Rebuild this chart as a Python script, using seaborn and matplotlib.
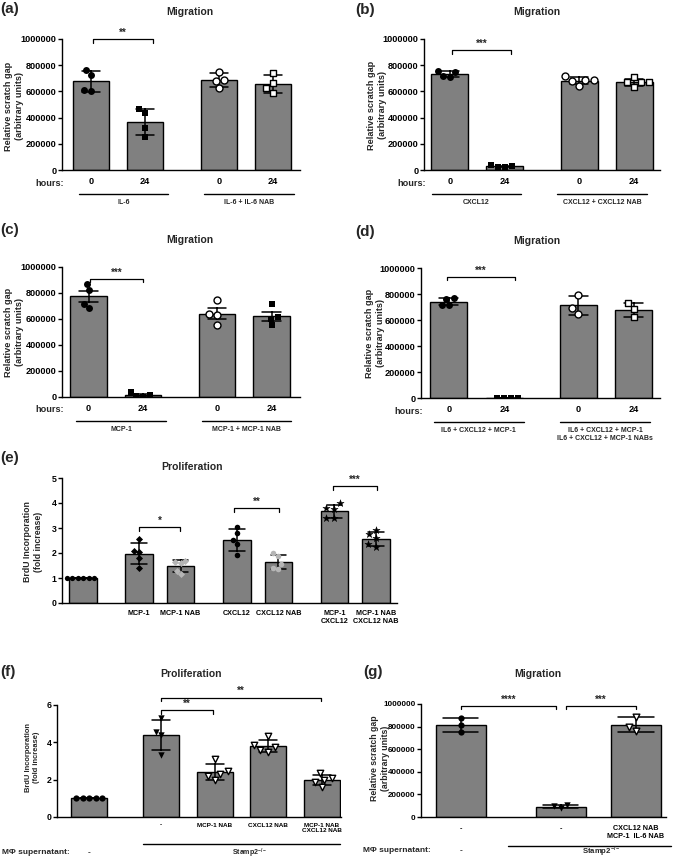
import numpy as np
import pandas as pd
import matplotlib
matplotlib.use("Agg")
import matplotlib.pyplot as plt
import matplotlib.transforms as mtransforms
import seaborn as sns

# ---------------- data ----------------
# (a) IL-6 migration (relative scratch gap)
a_il6_0h = [763000, 725000, 610000, 605000]
a_il6_24h = [466000, 435000, 320000, 252000]
a_il6nab_0h = [750000, 687000, 682000, 623000]
a_il6nab_24h = [743000, 667000, 623000, 590000]
a_groups = ["IL-6", "IL-6 + IL-6 NAB"]
a_sig = "**"
# (b) CXCL12
b_cxcl12_0h = [750000, 717000, 713000, 758000]
b_cxcl12_24h = [30000, 20000, 25000, 35000]
b_cxcl12nab_0h = [718000, 688000, 690000, 676000, 642000]
b_cxcl12nab_24h = [708000, 675000, 672000, 668000, 632000]
b_groups = ["CXCL12", "CXCL12 + CXCL12 NAB"]
b_sig = "***"
# (c) MCP-1
c_mcp1_0h = [872000, 821000, 719000, 681000]
c_mcp1_24h = [13000, 0, 5000, 38000]
c_mcp1nab_0h = [744000, 642000, 629000, 552000]
c_mcp1nab_24h = [714000, 616000, 603000, 552000]
c_groups = ["MCP-1", "MCP-1 + MCP-1 NAB"]
c_sig = "***"
# (d) IL6 + CXCL12 + MCP-1
d_mix_0h = [768000, 765000, 717000, 715000]
d_mix_24h = [0, 0, 0, 0]
d_mixnab_0h = [794000, 694000, 648000]
d_mixnab_24h = [729000, 686000, 622000]
d_groups = ["IL6 + CXCL12 + MCP-1", "IL6 + CXCL12 + MCP-1\nIL6 + CXCL12 + MCP-1 NABs"]
d_sig = "***"
hours_labels = ["0", "24", "0", "24"]
migration_ticks = [0, 200000, 400000, 600000, 800000, 1000000]

# (e) proliferation (BrdU, fold increase)
e_ctrl = [1.0, 1.0, 1.0, 1.0, 1.0, 1.0]
e_mcp1 = [2.55, 2.03, 2.07, 1.81, 1.41]
e_mcp1_nab = [1.70, 1.65, 1.62, 1.30, 1.15]
e_cxcl12 = [3.05, 2.81, 2.52, 2.35, 1.92]
e_cxcl12_nab = [1.99, 1.88, 1.55, 1.36, 1.40]
e_combo = [3.79, 4.01, 3.76, 3.39, 3.39]
e_combo_nab = [2.75, 2.92, 2.59, 2.25, 2.36]
e_labels = ["", "MCP-1", "MCP-1 NAB", "CXCL12", "CXCL12 NAB", "MCP-1\nCXCL12", "MCP-1 NAB\nCXCL12 NAB"]
e_sigs = ["*", "**", "***"]
e_ticks = [0, 1, 2, 3, 4, 5]

# (f) proliferation with macrophage supernatant
f_ctrl = [1.0, 1.0, 1.0, 1.0, 1.0]
f_stamp = [5.30, 4.57, 4.39, 3.32]
f_mcp1_nab = [3.10, 2.45, 2.20, 2.30, 2.00]
f_cxcl12_nab = [4.35, 3.85, 3.75, 3.60, 3.50]
f_both_nab = [2.35, 2.10, 2.00, 1.85, 1.60]
f_labels = ["", "-", "MCP-1 NAB", "CXCL12 NAB", "MCP-1 NAB\nCXCL12 NAB"]
f_sigs = ["**", "**"]
f_ticks = [0, 2, 4, 6]

# (g) migration with macrophage supernatant
g_ctrl = [879000, 814000, 750000]
g_stamp = [106000, 77000, 95000]
g_nabs = [888000, 799000, 761000]
g_labels = ["-", "-", "CXCL12 NAB\nMCP-1  IL-6 NAB"]
g_sigs = ["****", "***"]

# ---------------- style ----------------
sns.set_theme(style="ticks")
plt.rcParams["font.family"] = ["Liberation Sans", "DejaVu Sans"]
plt.rcParams["font.weight"] = "bold"
plt.rcParams["axes.labelweight"] = "bold"
plt.rcParams["mathtext.fontset"] = "custom"
plt.rcParams["mathtext.rm"] = "Liberation Sans:bold"
plt.rcParams["mathtext.bf"] = "Liberation Sans:bold"

BAR = "#808080"
LIGHT = "#b5b5b5"
W, H = 677, 866
fig = plt.figure(figsize=(W / 100, H / 100), dpi=100)


def add_ax(x0, x1, yt, yb):
    return fig.add_axes([x0 / W, 1 - yb / H, (x1 - x0) / W, (yb - yt) / H])


def ftext(x, y, s, **kw):
    kw.setdefault("fontweight", "bold")
    fig.text(x / W, 1 - y / H, s, **kw)


def make_df(groups, pos):
    rows = []
    for i, (vals, p) in enumerate(zip(groups, pos)):
        for v in vals:
            rows.append({"pos": p, "val": v, "grp": i})
    return pd.DataFrame(rows)


def bars_and_points(ax, groups, pos, styles, errorbar, capsize):
    df = make_df(groups, pos)
    sns.barplot(data=df, x="pos", y="val", native_scale=True, orient="x",
                errorbar=errorbar, capsize=capsize, width=0.67, color=BAR,
                saturation=1, edgecolor="black", linewidth=1.0,
                err_kws={"color": "black", "linewidth": 1.1}, ax=ax, zorder=2)
    for i, (mk, fc, lw, sz) in enumerate(styles):
        sub = df[df["grp"] == i]
        sns.swarmplot(data=sub, x="pos", y="val", native_scale=True, orient="x",
                      marker=mk, color=fc, edgecolor="black", linewidth=lw,
                      size=sz, ax=ax, zorder=6)


def style_axis(ax, xlim, ymax, yticks, ytick_fs):
    ax.set_xlim(*xlim)
    ax.set_ylim(0, ymax)
    ax.set_yticks(yticks)
    ax.set_yticklabels([f"{t:.0f}" for t in yticks], fontsize=ytick_fs, fontweight="bold")
    for s in ["top", "right"]:
        ax.spines[s].set_visible(False)
    for s in ["left", "bottom"]:
        ax.spines[s].set_linewidth(1.0)
        ax.spines[s].set_color("black")
    ax.tick_params(axis="y", length=3, width=1.0, pad=1, colors="black")
    ax.tick_params(axis="x", length=0, colors="black")
    ax.set_xlabel("")
    ax.set_ylabel("")


def bracket(ax, x0, x1, y, txt, tick_px=3.5, fs=7):
    hpx = ax.get_window_extent().height
    dy = tick_px * (ax.get_ylim()[1] - ax.get_ylim()[0]) / hpx
    ax.plot([x0, x0, x1, x1], [y - dy, y, y, y - dy], color="black", lw=0.9,
            clip_on=False, zorder=7)
    ax.annotate(txt, xy=((x0 + x1) / 2, y), xytext=(0, 1.0), textcoords="offset points",
                ha="center", va="bottom", fontsize=fs, fontweight="bold",
                annotation_clip=False)


def under_line(ax, x0, x1, dy_px):
    tr = mtransforms.offset_copy(
        mtransforms.blended_transform_factory(ax.transData, ax.transAxes),
        fig=fig, x=0, y=-dy_px, units="dots")
    ax.plot([x0, x1], [0, 0], transform=tr, color="black", lw=1.0, clip_on=False)


def under_text(ax, x, dy_px, s, fs, va="center"):
    ax.annotate(s, xy=(x, 0), xycoords=("data", "axes fraction"), xytext=(0, -dy_px),
                textcoords="offset pixels", ha="center", va=va, fontsize=fs,
                fontweight="bold", annotation_clip=False)


def migration_panel(ax, groups, pos, styles, errorbar, xlim, group_names, lines, sig, sig_x, sig_y):
    bars_and_points(ax, groups, pos, styles, errorbar, 0.34)
    style_axis(ax, xlim, 1000000, migration_ticks, 6.6)
    ax.set_xticks(pos)
    ax.set_xticklabels(hours_labels, fontsize=6.6, fontweight="bold")
    ax.tick_params(axis="x", pad=5)
    ax.annotate("hours:", xy=(0, 0), xycoords="axes fraction", xytext=(2, -13),
                textcoords="offset pixels", ha="right", va="center", fontsize=6.6,
                fontweight="bold", annotation_clip=False)
    for (l0, l1), name in zip(lines, group_names):
        under_line(ax, l0, l1, 24)
        under_text(ax, (l0 + l1) / 2, 29, name, 5.0, va="top")
    bracket(ax, sig_x[0], sig_x[1], sig_y, sig)
    ax.set_xlim(*xlim)
    ax.set_ylim(0, 1000000)


# marker styles: (marker, fill, edge width, size)
fill_c = ("o", "black", 0, 5)
fill_s = ("s", "black", 0, 4.8)
open_c = ("o", "white", 1.0, 5)
open_s = ("s", "white", 1.0, 4.8)

# ---- (a)
ax_a = add_ax(62, 300, 39, 170)
migration_panel(ax_a, [a_il6_0h, a_il6_24h, a_il6nab_0h, a_il6nab_24h],
                [0, 1, 2.37, 3.37], [fill_c, fill_s, open_c, open_s], "sd",
                (-0.537, 3.87), a_groups, [(-0.22, 1.43), (2.09, 3.76)],
                a_sig, (0.04, 1.15), 1000000)
# ---- (b)
ax_b = add_ax(424, 660, 39, 170)
migration_panel(ax_b, [b_cxcl12_0h, b_cxcl12_24h, b_cxcl12nab_0h, b_cxcl12nab_24h],
                [0, 1, 2.35, 3.35], [fill_c, fill_s, open_c, open_s], "sd",
                (-0.47, 3.82), b_groups, [(-0.33, 1.29), (1.95, 3.58)],
                b_sig, (0.04, 1.11), 916000)
# ---- (c)
ax_c = add_ax(62, 300, 267, 397)
migration_panel(ax_c, [c_mcp1_0h, c_mcp1_24h, c_mcp1nab_0h, c_mcp1nab_24h],
                [0, 1, 2.36, 3.36], [fill_c, fill_s, open_c, fill_s], "se",
                (-0.49, 3.88), c_groups, [(-0.23, 1.42), (2.08, 3.72)],
                c_sig, (0.03, 1.0), 908000)
# ---- (d)
ax_d = add_ax(421, 660, 268, 398)
migration_panel(ax_d, [d_mix_0h, d_mix_24h, d_mixnab_0h, d_mixnab_24h],
                [0, 1, 2.33, 3.33], [fill_c, fill_s, open_c, open_s], "sd",
                (-0.5, 3.8), d_groups, [(-0.27, 1.35), (2.0, 3.62)],
                d_sig, (-0.04, 1.19), 931000)

# ---- (e)
ax_e = add_ax(62, 397, 478, 603)
e_pos = [0, 1.35, 2.35, 3.71, 4.71, 6.06, 7.06]
e_styles = [("o", "black", 0, 3.8), ("D", "black", 0, 3.6), ("D", LIGHT, 0, 3.6),
            ("o", "black", 0, 4.0), ("o", LIGHT, 0, 4.0),
            ("*", "black", 0.3, 5.5), ("*", "black", 0.3, 5.5)]
bars_and_points(ax_e, [e_ctrl, e_mcp1, e_mcp1_nab, e_cxcl12, e_cxcl12_nab, e_combo, e_combo_nab],
                e_pos, e_styles, "sd", 0.38)
style_axis(ax_e, (-0.51, 7.57), 5, e_ticks, 6.3)
ax_e.set_xticks(e_pos)
ax_e.set_xticklabels(e_labels, fontsize=5.2, fontweight="bold")
ax_e.tick_params(axis="x", pad=5)
bracket(ax_e, 1.35, 2.34, 3.04, e_sigs[0])
bracket(ax_e, 3.64, 4.72, 3.80, e_sigs[1])
bracket(ax_e, 6.02, 7.08, 4.68, e_sigs[2])
ax_e.set_xlim(-0.51, 7.57)
ax_e.set_ylim(0, 5)

# ---- (f)
ax_f = add_ax(57, 341, 705, 817)
f_pos = [0, 1.35, 2.35, 3.35, 4.35]
f_styles = [("o", "black", 0, 4.5), ("v", "black", 0, 4.6), ("v", "white", 1.0, 4.6),
            ("v", "white", 1.0, 4.6), ("v", "white", 1.0, 4.6)]
bars_and_points(ax_f, [f_ctrl, f_stamp, f_mcp1_nab, f_cxcl12_nab, f_both_nab],
                f_pos, f_styles, "sd", 0.34)
style_axis(ax_f, (-0.6, 4.71), 6, f_ticks, 6.3)
ax_f.set_xticks(f_pos)
ax_f.set_xticklabels(f_labels, fontsize=4.6, fontweight="bold")
ax_f.tick_params(axis="x", pad=4)
bracket(ax_f, 1.35, 2.32, 5.73, f_sigs[0])
bracket(ax_f, 1.35, 4.33, 6.39, f_sigs[1])
under_line(ax_f, 1.01, 4.69, 27)
under_text(ax_f, 0, 36, "-", 6)
under_text(ax_f, 3.0, 36, r"Stamp2$^{-/-}$", 5.0)
ftext(2, 853, "M\u03a6 supernatant:", fontsize=6, ha="left", va="center")
ax_f.set_xlim(-0.6, 4.71)
ax_f.set_ylim(0, 6)

# ---- (g)
ax_g = add_ax(421, 666, 704, 817)
g_pos = [0, 1.33, 2.33]
g_styles = [("o", "black", 0, 4.5), ("v", "black", 0, 4.6), ("v", "white", 1.0, 4.8)]
bars_and_points(ax_g, [g_ctrl, g_stamp, g_nabs], g_pos, g_styles, "sd", 0.47)
style_axis(ax_g, (-0.53, 2.73), 1000000, migration_ticks, 5.8)
ax_g.set_xticks(g_pos)
ax_g.set_xticklabels(g_labels, fontsize=5.2, fontweight="bold")
ax_g.tick_params(axis="x", pad=6)
bracket(ax_g, 0, 1.27, 984000, g_sigs[0])
bracket(ax_g, 1.40, 2.33, 984000, g_sigs[1])
under_line(ax_g, 0.63, 2.8, 29)
under_text(ax_g, 0, 34, "-", 6)
under_text(ax_g, 1.87, 34, r"Stamp2$^{-/-}$", 5.6)
ftext(363, 851, "M\u03a6 supernatant:", fontsize=6, ha="left", va="center")
ax_g.set_xlim(-0.53, 2.73)
ax_g.set_ylim(0, 1000000)

# ---- titles, panel labels, y labels
for lab, x, y in [("(a)", 0, 9), ("(b)", 355, 10), ("(c)", 0, 230), ("(d)", 355, 232),
                  ("(e)", 0, 458), ("(f)", 0, 672), ("(g)", 363, 672)]:
    ftext(x, y, lab, fontsize=11, ha="left", va="center")
for t, x, y in [("Migration", 190, 12), ("Migration", 537, 12), ("Migration", 190, 240),
                ("Migration", 537, 241), ("Proliferation", 192, 467),
                ("Proliferation", 191, 674), ("Migration", 538, 674)]:
    ftext(x, y, t, fontsize=7.5, ha="center", va="center")
mig_lab = "Relative scratch gap\n(arbitrary units)"
brdu_lab = "BrdU Incorporation\n(fold increase)"
for t, x, y, fs in [(mig_lab, 14, 106, 6.6), (mig_lab, 377, 105, 6.6), (mig_lab, 14, 332, 6.6),
                    (mig_lab, 375, 333, 6.6), (brdu_lab, 33, 542, 6.3), (brdu_lab, 32, 757, 5.4),
                    (mig_lab, 380, 758, 6.3)]:
    ftext(x, y, t, fontsize=fs, ha="center", va="center", rotation=90,
          multialignment="center")

fig.savefig("out.png", dpi=100)
